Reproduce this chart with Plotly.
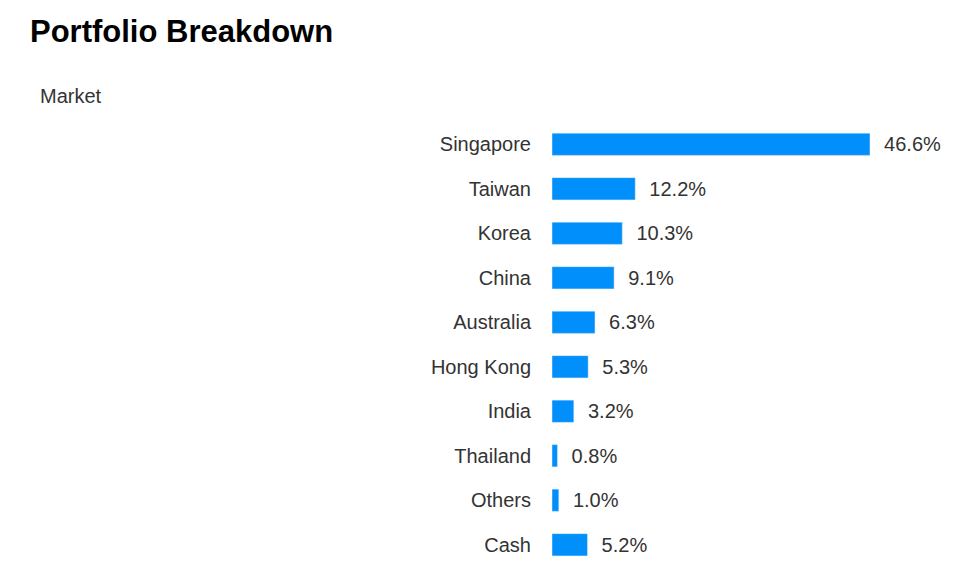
import plotly.graph_objects as go

markets = ["Singapore", "Taiwan", "Korea", "China", "Australia", "Hong Kong",
           "India", "Thailand", "Others", "Cash"]
weights = [46.6, 12.2, 10.3, 9.1, 6.3, 5.3, 3.2, 0.8, 1.0, 5.2]
labels = [f"  {w:.1f}%" for w in weights]

fig = go.Figure(go.Bar(
    x=weights, y=markets, orientation="h",
    marker=dict(color="#008ffb"), width=0.5,
    text=labels, textposition="outside", cliponaxis=False,
    textfont=dict(size=20, color="#333333"),
))

plot_w = 975 - 544 - 113
plot_h = 571 - 114 - 12

fig.update_layout(
    width=975, height=571,
    margin=dict(l=544, r=113, t=114, b=12, autoexpand=False),
    plot_bgcolor="white", paper_bgcolor="white",
    font=dict(family="Liberation Sans, Arial, sans-serif", size=20, color="#333333"),
    showlegend=False,
    title=dict(text="<b>Portfolio Breakdown</b>", x=22 / 975, xref="container", xanchor="left",
               y=1 - 12 / 571, yref="container", yanchor="top",
               font=dict(size=31, color="black")),
    annotations=[dict(text="Market", xref="paper", yref="paper",
                      x=(30 - 544) / plot_w, y=1 + (114 - 88) / plot_h,
                      xanchor="left", yanchor="middle", showarrow=False,
                      font=dict(size=20, color="#333333"))],
)

fig.update_xaxes(range=[0, 46.6], visible=False)
fig.update_yaxes(autorange="reversed", showgrid=False, showline=False,
                 ticks="", ticklabelstandoff=20, tickfont=dict(size=20))

fig.write_html("out.html")
